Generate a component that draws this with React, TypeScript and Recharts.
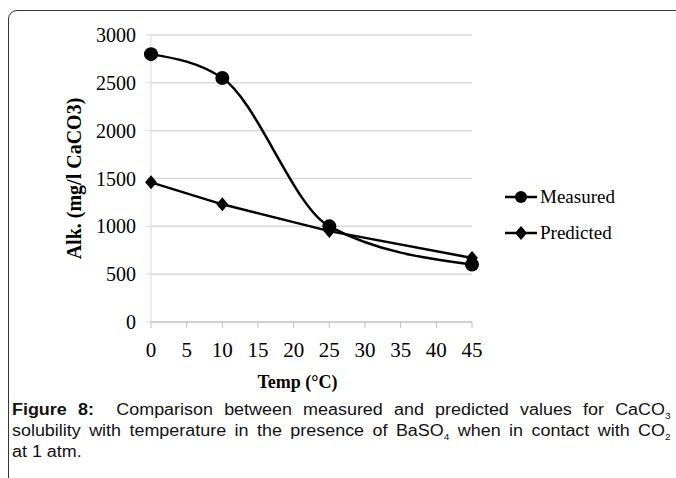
import { CartesianGrid, Label, Line, LineChart, XAxis, YAxis } from "recharts";

const temps = [0, 10, 25, 45];
const measured = [2800, 2550, 1000, 600];
const predicted = [1460, 1230, 950, 670];
const xTicks = [0, 5, 10, 15, 20, 25, 30, 35, 40, 45];
const yTicks = [0, 500, 1000, 1500, 2000, 2500, 3000];

const rows = temps.map((t, i) => ({
  temp: t,
  measured: measured[i],
  predicted: predicted[i],
}));

const serif = "'Liberation Serif', 'Times New Roman', serif";
const sans = "'Liberation Sans', Arial, sans-serif";

function Diamond(props: any) {
  const { cx, cy } = props;
  if (cx == null || cy == null) return null;
  const r = 7;
  return (
    <path
      d={`M${cx},${cy - r}L${cx + r * 0.85},${cy}L${cx},${cy + r}L${cx - r * 0.85},${cy}Z`}
      fill="#000"
    />
  );
}

function Legend() {
  const items = [
    { name: "Measured", y: 197, kind: "circle" },
    { name: "Predicted", y: 233, kind: "diamond" },
  ];
  return (
    <svg
      width={140}
      height={80}
      style={{ position: "absolute", left: 500, top: 175 }}
    >
      {items.map((it) => {
        const y = it.y - 175;
        return (
          <g key={it.name}>
            <line x1={5} x2={37} y1={y} y2={y} stroke="#000" strokeWidth={2.5} />
            {it.kind === "circle" ? (
              <circle cx={21} cy={y} r={6} fill="#000" />
            ) : (
              <Diamond cx={21} cy={y} />
            )}
            <text x={40} y={y + 6} fontFamily={serif} fontSize={19} fill="#000">
              {it.name}
            </text>
          </g>
        );
      })}
    </svg>
  );
}

const sub = { fontSize: 9, lineHeight: 0, verticalAlign: "-4px" } as const;

export default function App() {
  return (
    <div
      style={{
        position: "fixed",
        left: 0,
        top: 0,
        width: 676,
        height: 478,
        overflow: "hidden",
        background: "#fff",
      }}
    >
      <div
        style={{
          position: "absolute",
          left: 8,
          top: 10,
          width: 720,
          height: 520,
          border: "1.5px solid #333",
          borderTopLeftRadius: 9,
        }}
      />
      <div style={{ position: "absolute", left: 0, top: 0 }}>
        <LineChart
          width={676}
          height={395}
          data={rows}
          margin={{ top: 35, right: 204, left: 0, bottom: 0 }}
        >
          <CartesianGrid vertical={false} stroke="#d9d9d9" strokeWidth={1.5} />
          <XAxis
            dataKey="temp"
            type="number"
            domain={[0, 45]}
            ticks={xTicks}
            height={73}
            stroke="#bfbfbf"
            tickSize={6}
            tickMargin={14}
            tick={{ fill: "#000", fontFamily: serif, fontSize: 21 }}
          >
            <Label
              value="Temp (°C)"
              position="insideBottom"
              offset={7}
              dx={-14}
              style={{ fill: "#000", fontFamily: serif, fontSize: 18, fontWeight: "bold" }}
            />
          </XAxis>
          <YAxis
            type="number"
            domain={[0, 3000]}
            ticks={yTicks}
            width={151}
            stroke="#d9d9d9"
            tickSize={5}
            tickMargin={10}
            tick={{ fill: "#000", fontFamily: serif, fontSize: 20 }}
          >
            <Label
              value="Alk. (mg/l CaCO3)"
              angle={-90}
              position="insideLeft"
              offset={74}
              style={{
                fill: "#000",
                fontFamily: serif,
                fontSize: 20,
                fontWeight: "bold",
                textAnchor: "middle",
              }}
            />
          </YAxis>
          <Line
            dataKey="measured"
            type="monotone"
            stroke="#000"
            strokeWidth={2.5}
            dot={{ r: 7, fill: "#000", stroke: "#000", strokeWidth: 0 }}
            isAnimationActive={false}
          />
          <Line
            dataKey="predicted"
            type="linear"
            stroke="#000"
            strokeWidth={2.5}
            dot={<Diamond />}
            isAnimationActive={false}
          />
        </LineChart>
      </div>
      <Legend />
      <div
        style={{
          position: "absolute",
          left: 12,
          top: 399,
          width: 588,
          transform: "scaleX(1.12)",
          transformOrigin: "left top",
          fontFamily: sans,
          fontSize: 16,
          lineHeight: "21px",
          color: "#111",
        }}
      >
        <div style={{ textAlign: "justify", textAlignLast: "justify" }}>
          <b>Figure 8:</b>&nbsp; Comparison between measured and predicted values for CaCO
          <sub style={sub}>3</sub>
        </div>
        <div style={{ textAlign: "justify", textAlignLast: "justify" }}>
          solubility with temperature in the presence of BaSO<sub style={sub}>4</sub> when in
          contact with CO<sub style={sub}>2</sub>
        </div>
        <div>at 1 atm.</div>
      </div>
    </div>
  );
}
